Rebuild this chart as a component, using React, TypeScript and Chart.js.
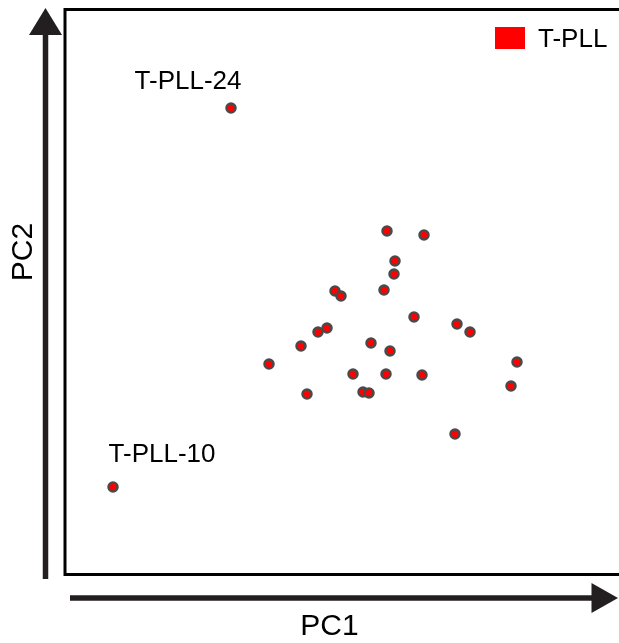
import React, { useEffect, useRef } from "react";
import { Chart, registerables } from "chart.js";

Chart.register(...registerables);

// PCA scores (arbitrary units)
const sampleNames = [
  "T-PLL-24", "T-PLL-10", "s3", "s4", "s5", "s6", "s7", "s8", "s9", "s10",
  "s11", "s12", "s13", "s14", "s15", "s16", "s17", "s18", "s19", "s20",
  "s21", "s22", "s23", "s24", "s25", "s26", "s27",
];
const pc1 = [
  -10.9, -22.7, 4.7, 8.4, 5.5, 5.4, 4.4, -0.5, 0.1, 7.4,
  11.7, 13.0, -1.3, -2.2, -3.9, 3.1, 5.0, -7.1, 17.7, 1.3,
  4.6, 8.2, 17.1, -3.3, 2.3, 2.9, 11.5,
];
const pc2 = [
  27.2, -10.7, 14.9, 14.5, 11.9, 10.6, 9.0, 8.9, 8.4, 6.3,
  5.6, 4.8, 5.2, 4.8, 3.4, 3.7, 2.9, 1.6, 1.8, 0.6,
  0.6, 0.5, -0.6, -1.4, -1.2, -1.3, -5.4,
];
const seriesLabel = "T-PLL";
const annotatedNames = ["T-PLL-24", "T-PLL-10"];
const annotationX = [-15.2, -17.8];
const annotationY = [29.1, -8.2];
const xLabel = "PC1";
const yLabel = "PC2";

const FONT = '"Liberation Sans", Arial, sans-serif';

const overlayPlugin = {
  id: "overlay",
  afterDraw(chart: any) {
    const ctx = chart.ctx;
    const xs = chart.scales.x;
    const ys = chart.scales.y;
    ctx.save();
    // frame
    ctx.strokeStyle = "#000";
    ctx.lineWidth = 3;
    ctx.strokeRect(65, 9.5, 600, 565);

    ctx.fillStyle = "#231f20";
    ctx.strokeStyle = "#231f20";
    // vertical arrow
    ctx.lineWidth = 5.5;
    ctx.beginPath();
    ctx.moveTo(45.5, 579);
    ctx.lineTo(45.5, 32);
    ctx.stroke();
    ctx.beginPath();
    ctx.moveTo(45.5, 8);
    ctx.lineTo(62, 35);
    ctx.lineTo(29, 35);
    ctx.closePath();
    ctx.fill();
    // horizontal arrow
    ctx.beginPath();
    ctx.moveTo(70, 598);
    ctx.lineTo(595, 598);
    ctx.stroke();
    ctx.beginPath();
    ctx.moveTo(618, 598);
    ctx.lineTo(591.5, 583);
    ctx.lineTo(591.5, 613);
    ctx.closePath();
    ctx.fill();

    // axis titles
    ctx.fillStyle = "#000";
    ctx.font = `30px ${FONT}`;
    ctx.textAlign = "center";
    ctx.textBaseline = "alphabetic";
    ctx.fillText(xLabel, 329.5, 635);
    ctx.save();
    ctx.translate(32, 252);
    ctx.rotate(-Math.PI / 2);
    ctx.fillText(yLabel, 0, 0);
    ctx.restore();

    // annotations
    ctx.font = `26px ${FONT}`;
    ctx.textAlign = "center";
    annotatedNames.forEach((name, i) => {
      ctx.fillText(name, xs.getPixelForValue(annotationX[i]), ys.getPixelForValue(annotationY[i]));
    });

    // legend
    ctx.fillStyle = "#ff0000";
    ctx.fillRect(495, 27, 30, 22);
    ctx.fillStyle = "#000";
    ctx.textAlign = "left";
    ctx.fillText(seriesLabel, 538, 47);
    ctx.restore();
  },
};

export default function App() {
  const ref = useRef<HTMLCanvasElement>(null);
  useEffect(() => {
    if (!ref.current) return;
    const data = pc1.map((x, i) => ({ x, y: pc2[i], name: sampleNames[i] }));
    const chart = new Chart(ref.current, {
      type: "scatter",
      data: {
        datasets: [
          {
            label: seriesLabel,
            data,
            backgroundColor: "#ff0000",
            borderColor: "#4a4a4a",
            borderWidth: 2.5,
            pointRadius: 4.5,
          },
        ],
      },
      options: {
        animation: false,
        responsive: false,
        devicePixelRatio: 1,
        layout: { padding: { left: 66, top: 9, right: 0, bottom: 70 } },
        scales: {
          x: { type: "linear", min: -27.4, max: 27.2, display: false },
          y: { type: "linear", min: -19.3, max: 37.1, display: false },
        },
        plugins: {
          legend: { display: false },
          tooltip: { enabled: false },
        },
      },
      plugins: [overlayPlugin],
    });
    return () => chart.destroy();
  }, []);
  return (
    <div style={{ position: "fixed", left: 0, top: 0, width: 619, height: 643, background: "#fff" }}>
      <canvas ref={ref} width={619} height={643} style={{ width: 619, height: 643, display: "block" }} />
    </div>
  );
}
